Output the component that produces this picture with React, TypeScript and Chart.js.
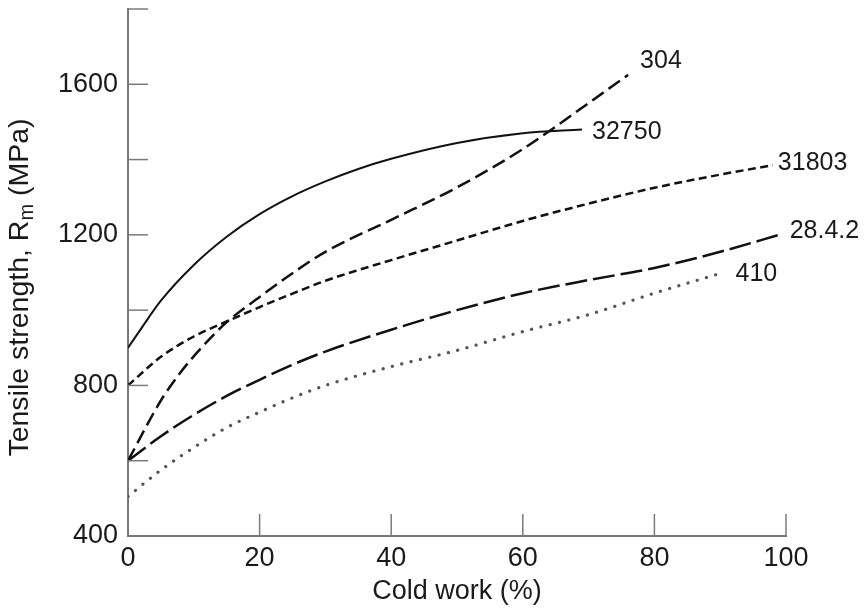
import React, { useEffect, useRef } from 'react';
import { Chart, registerables } from 'chart.js';

Chart.register(...registerables);

const FONT = '"Liberation Sans", Arial, Helvetica, sans-serif';

// ---- data (Cold work %, Tensile strength MPa) ----
const x32750 = [0, 2, 5, 10, 15, 20, 25, 30, 35, 40, 50, 60, 69];
const y32750 = [900, 951, 1025, 1120, 1195, 1255, 1303, 1342, 1375, 1402, 1444, 1470, 1480];

const x304 = [0, 5, 8, 11, 15, 20, 25, 30, 40, 50, 60, 70, 76];
const y304 = [600, 760, 835, 897, 968, 1035, 1098, 1155, 1240, 1326, 1428, 1550, 1625];

const x31803 = [0, 5, 10, 15, 20, 25, 30, 40, 50, 60, 70, 80, 90, 98];
const y31803 = [800, 876, 930, 970, 1008, 1044, 1078, 1133, 1185, 1237, 1283, 1325, 1360, 1385];

const x2842 = [0, 5, 10, 15, 20, 25, 30, 40, 50, 60, 70, 80, 90, 99.5];
const y2842 = [600, 665, 722, 772, 815, 855, 890, 948, 1000, 1045, 1080, 1112, 1155, 1203];

const x410 = [0, 5, 10, 15, 20, 25, 30, 40, 50, 60, 70, 80, 90.5];
const y410 = [505, 575, 635, 688, 729, 767, 800, 850, 893, 943, 988, 1045, 1100];

const seriesNames = ['32750', '304', '31803', '28.4.2', '410'];

const xTickStep = 20;
const yTickStep = 200;
const yLabelStep = 400;

const toPts = (xs: number[], ys: number[]) => xs.map((x, i) => ({ x, y: ys[i] }));

// label offsets in px from the last point of each series (dx, dy)
const labelOffsets: Record<string, [number, number]> = {
  '32750': [10, 3],
  '304': [12, -14],
  '31803': [5, -2],
  '28.4.2': [7, -3],
  '410': [12, 2],
};

const tickMarks = {
  id: 'tickMarks',
  afterDraw(chart: any) {
    const { ctx, chartArea, scales } = chart;
    const xs = scales.x;
    const ys = scales.y;
    ctx.save();
    ctx.strokeStyle = '#7a7a7a';
    ctx.lineWidth = 1.5;
    xs.ticks.forEach((t: any) => {
      if (t.value === xs.min) return;
      const px = xs.getPixelForValue(t.value);
      ctx.beginPath();
      ctx.moveTo(px, chartArea.bottom);
      ctx.lineTo(px, chartArea.bottom - 22);
      ctx.stroke();
    });
    ys.ticks.forEach((t: any) => {
      if (t.value === ys.min) return;
      const py = ys.getPixelForValue(t.value);
      ctx.beginPath();
      ctx.moveTo(chartArea.left, py);
      ctx.lineTo(chartArea.left + 20, py);
      ctx.stroke();
    });
    ctx.restore();
  },
};

const seriesLabels = {
  id: 'seriesLabels',
  afterDraw(chart: any) {
    const { ctx, scales } = chart;
    ctx.save();
    ctx.font = `25px ${FONT}`;
    ctx.fillStyle = '#1a1a1a';
    ctx.textAlign = 'left';
    ctx.textBaseline = 'middle';
    chart.data.datasets.forEach((ds: any) => {
      const last = ds.data[ds.data.length - 1];
      const px = scales.x.getPixelForValue(last.x);
      const py = scales.y.getPixelForValue(last.y);
      const [dx, dy] = labelOffsets[ds.label] || [8, 0];
      ctx.fillText(ds.label, px + dx, py + dy);
    });
    ctx.restore();
  },
};

const yTitle = {
  id: 'yTitle',
  afterDraw(chart: any) {
    const { ctx, chartArea } = chart;
    const cy = (chartArea.top + chartArea.bottom) / 2 + 15;
    const main = `28.5px ${FONT}`;
    const sub = `20px ${FONT}`;
    const p1 = 'Tensile strength, R';
    const p2 = 'm';
    const p3 = ' (MPa)';
    ctx.save();
    ctx.translate(28, cy);
    ctx.rotate(-Math.PI / 2);
    ctx.fillStyle = '#1a1a1a';
    ctx.textBaseline = 'alphabetic';
    ctx.textAlign = 'left';
    ctx.font = main;
    const w1 = ctx.measureText(p1).width;
    const w3 = ctx.measureText(p3).width;
    ctx.font = sub;
    const w2 = ctx.measureText(p2).width;
    const total = w1 + w2 + w3;
    let x0 = -total / 2;
    ctx.font = main;
    ctx.fillText(p1, x0, 0);
    x0 += w1;
    ctx.font = sub;
    ctx.fillText(p2, x0, 5);
    x0 += w2;
    ctx.font = main;
    ctx.fillText(p3, x0, 0);
    ctx.restore();
  },
};

export default function App() {
  const ref = useRef<HTMLCanvasElement | null>(null);

  useEffect(() => {
    if (!ref.current) return;
    const mk = (label: string, xs: number[], ys: number[], extra: any) => ({
      label,
      data: toPts(xs, ys),
      borderColor: '#111',
      borderWidth: 2.5,
      pointRadius: 0,
      fill: false,
      cubicInterpolationMode: 'monotone',
      ...extra,
    });
    const chart = new Chart(ref.current, {
      type: 'line',
      data: {
        datasets: [
          mk(seriesNames[0], x32750, y32750, { borderWidth: 2 }),
          mk(seriesNames[1], x304, y304, { borderDash: [14, 6] }),
          mk(seriesNames[2], x31803, y31803, { borderDash: [8, 4.5] }),
          mk(seriesNames[3], x2842, y2842, { borderDash: [22, 6] }),
          mk(seriesNames[4], x410, y410, {
            borderDash: [0.1, 9.5],
            borderCapStyle: 'round',
            borderWidth: 3.2,
            borderColor: '#555',
          }),
        ] as any,
      },
      options: {
        animation: false,
        responsive: false,
        devicePixelRatio: 1,
        layout: { padding: { top: 9, right: 80, left: 0, bottom: 0 } },
        plugins: {
          legend: { display: false },
          tooltip: { enabled: false },
        },
        scales: {
          x: {
            type: 'linear',
            min: 0,
            max: 100,
            grid: { display: false, drawTicks: false },
            border: { display: true, color: '#777', width: 2 },
            ticks: {
              stepSize: xTickStep,
              color: '#1a1a1a',
              font: { family: FONT, size: 27 },
              padding: 6,
              maxRotation: 0,
            },
            title: {
              display: true,
              text: 'Cold work (%)',
              color: '#1a1a1a',
              font: { family: FONT, size: 27 },
              padding: { top: 0, bottom: 3 },
            },
            afterFit(scale: any) {
              scale.height = 75;
            },
          },
          y: {
            type: 'linear',
            min: 400,
            max: 1800,
            grid: { display: false, drawTicks: false },
            border: { display: true, color: '#777', width: 2 },
            ticks: {
              stepSize: yTickStep,
              color: '#1a1a1a',
              font: { family: FONT, size: 27 },
              padding: 10,
              callback: (v: any) =>
                Number(v) % yLabelStep === 0 && Number(v) < 1800 ? String(v) : '',
            },
            afterFit(scale: any) {
              scale.width = 128;
              scale.paddingTop = 0;
              scale.paddingBottom = 0;
            },
          },
        },
      } as any,
      plugins: [tickMarks, seriesLabels, yTitle],
    });
    return () => chart.destroy();
  }, []);

  return (
    <div style={{ position: 'absolute', left: 0, top: 0, width: 866, height: 611, background: '#fff' }}>
      <canvas ref={ref} width={866} height={611} />
    </div>
  );
}
